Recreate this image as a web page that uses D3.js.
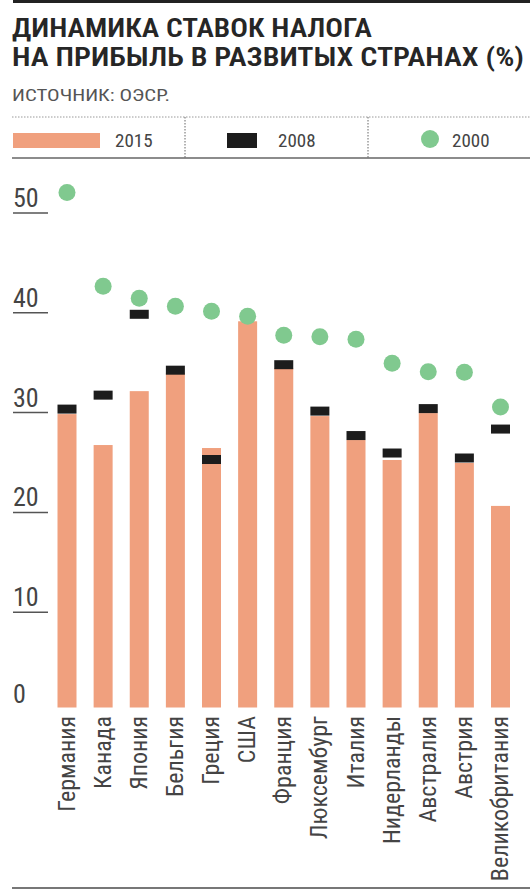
<html>
<head>
<meta charset="utf-8">
<script src="https://d3js.org/d3.v7.min.js"></script>
<style>
  body { margin: 0; background: #fff; }
  text { font-family: "Liberation Sans Narrow", "Roboto Condensed", "DejaVu Sans Condensed", Roboto, sans-serif; }
</style>
</head>
<body>
<svg width="530" height="890"></svg>
<script>
// data
var countries = ["Германия", "Канада", "Япония", "Бельгия", "Греция", "США", "Франция",
                 "Люксембург", "Италия", "Нидерланды", "Австралия", "Австрия", "Великобритания"];
var v2015 = [29.8, 26.7, 32.1, 33.9, 26.4, 39.1, 34.4, 29.6, 27.2, 25.2, 29.9, 24.9, 20.6];
var v2008 = [30.3, 31.7, 39.8, 34.2, 25.25, null, 34.75, 30.1, 27.65, 25.9, 30.35, 25.4, 28.3];
var v2000 = [52.0, 42.6, 41.4, 40.6, 40.1, 39.6, 37.7, 37.55, 37.3, 34.9, 34.05, 34.0, 30.5];
var yTicks = [0, 10, 20, 30, 40, 50];
var legendItems = ["2015", "2008", "2000"];

var orange = "#f0a07e", black = "#1c1c1c", green = "#80c98f";

var svg = d3.select("svg");

var x = d3.scalePoint().domain(countries).range([67, 500.5]);
var y = d3.scaleLinear().domain([0, 50]).range([711.5, 212.5]);
var bw = 19;

// frame lines
svg.append("rect").attr("x", 13).attr("y", 0).attr("width", 517).attr("height", 3).attr("fill", "#222");
svg.append("line").attr("x1", 12).attr("x2", 530).attr("y1", 888).attr("y2", 888)
  .attr("stroke", "#777").attr("stroke-width", 2);

// title
var title = svg.append("g").attr("fill", "#262626").attr("font-size", 26).attr("font-weight", 600);
title.append("text").attr("x", 12).attr("y", 37).attr("textLength", 360)
  .attr("lengthAdjust", "spacingAndGlyphs").text("ДИНАМИКА СТАВОК НАЛОГА");
title.append("text").attr("x", 12).attr("y", 66).attr("textLength", 512)
  .attr("lengthAdjust", "spacingAndGlyphs").text("НА ПРИБЫЛЬ В РАЗВИТЫХ СТРАНАХ (%)");
svg.append("text").attr("x", 12).attr("y", 101).attr("font-size", 17).attr("fill", "#555")
  .attr("textLength", 158).attr("lengthAdjust", "spacingAndGlyphs")
  .text("ИСТОЧНИК: ОЭСР.");

// legend box
svg.append("line").attr("x1", 12).attr("x2", 530).attr("y1", 117).attr("y2", 117)
  .attr("stroke", "#999").attr("stroke-dasharray", "1.5,1.5");
svg.append("line").attr("x1", 12).attr("x2", 530).attr("y1", 158).attr("y2", 158)
  .attr("stroke", "#666").attr("stroke-width", 1.5);
[185, 368].forEach(function(sx) {
  svg.append("line").attr("x1", sx).attr("x2", sx).attr("y1", 117).attr("y2", 158)
    .attr("stroke", "#666").attr("stroke-dasharray", "1.5,1.5");
});
var lg = svg.append("g");
lg.append("rect").attr("x", 13).attr("y", 133).attr("width", 87).attr("height", 15).attr("fill", orange);
lg.append("rect").attr("x", 227).attr("y", 133).attr("width", 30).attr("height", 15).attr("fill", black);
lg.append("circle").attr("cx", 430).attr("cy", 139).attr("r", 9).attr("fill", green);
lg.selectAll("text.lg").data(legendItems).enter().append("text")
  .attr("class", "lg")
  .attr("x", function(d, i) { return [115, 278, 452][i]; })
  .attr("y", 147).attr("font-size", 19).attr("fill", "#444")
  .text(function(d) { return d; });

// y axis: labels sitting on short underlines
var ya = svg.append("g").attr("transform", "translate(13,0)")
  .call(d3.axisRight(y).tickValues(yTicks).tickSize(35).tickFormat(d3.format("d")));
ya.select(".domain").remove();
ya.selectAll(".tick line").attr("stroke", "#555").attr("stroke-width", 1.5)
  .filter(function(d) { return d === 0; }).remove();
ya.selectAll(".tick text").attr("x", 0).attr("dy", null)
  .attr("y", function(d) { return d === 0 ? -9 : -6; })
  .attr("text-anchor", "start").attr("font-size", 26).attr("fill", "#444")
  .attr("font-family", null);

// bars 2015
svg.append("g").selectAll("rect").data(countries).enter().append("rect")
  .attr("x", function(d) { return x(d) - bw / 2; })
  .attr("y", function(d, i) { return y(v2015[i]); })
  .attr("width", bw)
  .attr("height", function(d, i) { return y(0) - y(v2015[i]) - 4; })
  .attr("fill", orange);

// markers 2008
svg.append("g").selectAll("rect").data(countries.filter(function(d, i) { return v2008[i] != null; }))
  .enter().append("rect")
  .attr("x", function(d) { return x(d) - bw / 2; })
  .attr("y", function(d) { return y(v2008[countries.indexOf(d)]) - 4.5; })
  .attr("width", bw).attr("height", 9)
  .attr("fill", black);

// dots 2000
svg.append("g").selectAll("circle").data(countries).enter().append("circle")
  .attr("cx", function(d) { return x(d); })
  .attr("cy", function(d, i) { return y(v2000[i]); })
  .attr("r", 8.5)
  .attr("fill", green);

// x axis labels, rotated
var xa = svg.append("g").attr("transform", "translate(0,716)")
  .call(d3.axisBottom(x).tickSize(0));
xa.select(".domain").remove();
xa.selectAll(".tick text")
  .attr("transform", "translate(7,0) rotate(-90)")
  .attr("x", 0).attr("y", 0).attr("dy", null)
  .attr("text-anchor", "end").attr("font-size", 24).attr("fill", "#444")
  .attr("font-family", null);
</script>
</body>
</html>
